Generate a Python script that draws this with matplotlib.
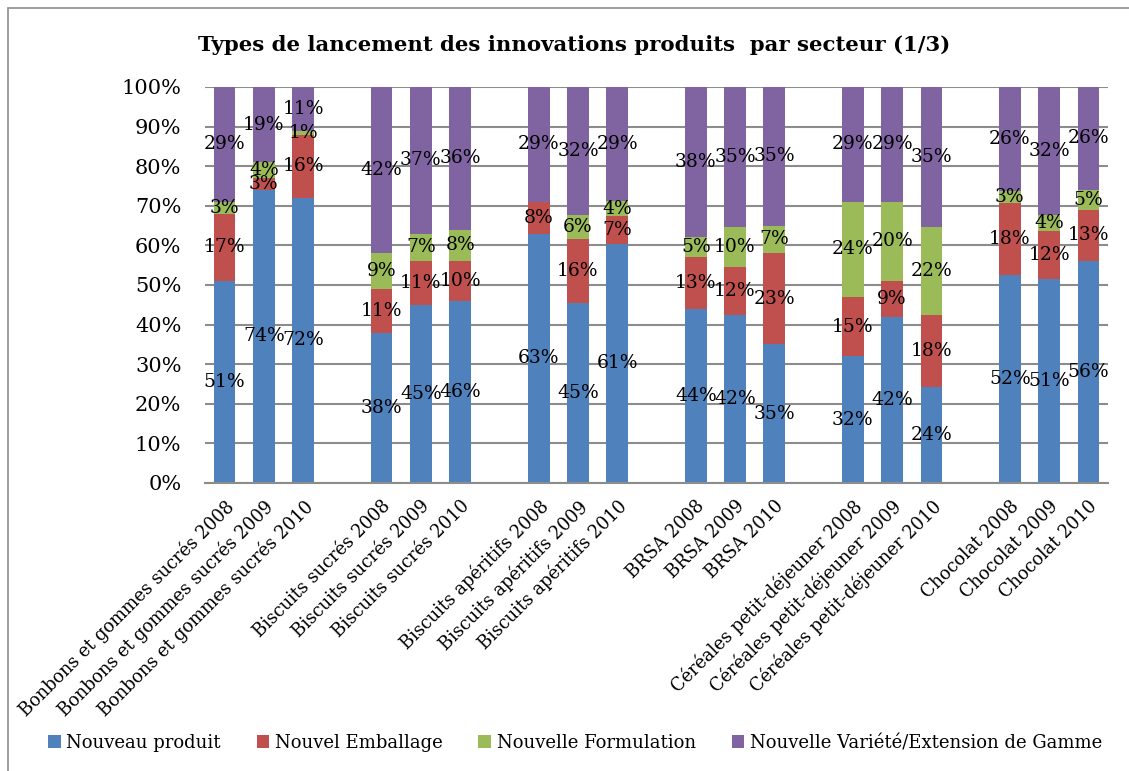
import matplotlib
matplotlib.use("Agg")
import matplotlib.pyplot as plt
from matplotlib.patches import Rectangle
import numpy as np

plt.rcParams['font.family'] = ['DejaVu Serif']

# data (en %)
categories = ["Bonbons et gommes sucrés 2008", "Bonbons et gommes sucrés 2009", "Bonbons et gommes sucrés 2010",
              "Biscuits sucrés 2008", "Biscuits sucrés 2009", "Biscuits sucrés 2010",
              "Biscuits apéritifs 2008", "Biscuits apéritifs 2009", "Biscuits apéritifs 2010",
              "BRSA 2008", "BRSA 2009", "BRSA 2010",
              "Céréales petit-déjeuner 2008", "Céréales petit-déjeuner 2009", "Céréales petit-déjeuner 2010",
              "Chocolat 2008", "Chocolat 2009", "Chocolat 2010"]
nouveau = [51, 74, 72, 38, 45, 46, 63, 45, 61, 44, 42, 35, 32, 42, 24, 52, 51, 56]
emballage = [17, 3, 16, 11, 11, 10, 8, 16, 7, 13, 12, 23, 15, 9, 18, 18, 12, 13]
formulation = [3, 4, 1, 9, 7, 8, 0, 6, 4, 5, 10, 7, 24, 20, 22, 3, 4, 5]
variete = [29, 19, 11, 42, 37, 36, 29, 32, 29, 38, 35, 35, 29, 29, 35, 26, 32, 26]
series_names = ["Nouveau produit", "Nouvel Emballage", "Nouvelle Formulation",
                "Nouvelle Variété/Extension de Gamme"]
colors = ["#4F81BD", "#C0504D", "#9BBB59", "#8064A2"]

W, H = 1129, 771
fig = plt.figure(figsize=(W / 100, H / 100), dpi=100)
fig.patches.append(Rectangle((8 / W, -0.01), 1.0, 1 - 8 / H + 0.01, transform=fig.transFigure,
                             fill=False, edgecolor="#8c8c8c", lw=1.2))
ax = fig.add_axes([205 / W, 1 - 483 / H, (1108 - 205) / W, (483 - 87) / H])

# positions : un emplacement vide entre chaque secteur
pos = np.array([(i // 3) * 4 + i % 3 for i in range(len(categories))])
data = np.array([nouveau, emballage, formulation, variete], dtype=float)
frac = data / data.sum(axis=0)

bottom = np.zeros(len(categories))
for k in range(4):
    ax.bar(pos, frac[k], 0.55, bottom=bottom, color=colors[k], label=series_names[k], zorder=2)
    for i in range(len(categories)):
        if data[k, i] > 0:
            ax.text(pos[i], bottom[i] + frac[k, i] / 2, "%d%%" % data[k, i],
                    ha="center", va="center", fontsize=13.5, color="black", zorder=3)
    bottom += frac[k]

ax.set_xlim(-0.5, pos[-1] + 0.5)
ax.set_ylim(0, 1)
ax.set_yticks(np.arange(0, 1.01, 0.1))
ax.set_yticklabels(["%d%%" % v for v in range(0, 101, 10)], fontsize=15)
ax.set_xticks(pos)
ax.set_xticklabels(categories, rotation=45, ha="right", rotation_mode="anchor", fontsize=12.8)
ax.tick_params(length=0)
ax.tick_params(axis="y", pad=17)
ax.tick_params(axis="x", pad=10)
ax.yaxis.grid(True, color="#8c8c8c", lw=1.5, zorder=0)
for s in ["top", "right", "left"]:
    ax.spines[s].set_visible(False)
ax.spines["bottom"].set_color("#8c8c8c")
ax.spines["bottom"].set_linewidth(1.5)

fig.text(574 / W, 1 - 45 / H, "Types de lancement des innovations produits  par secteur (1/3)",
         ha="center", va="center", fontsize=15.3, fontweight="bold")

fig.legend(loc="center", bbox_to_anchor=(575 / W, 1 - 743 / H), ncol=4, frameon=False,
           fontsize=13, handlelength=0.7, handleheight=0.7, handletextpad=0.3, columnspacing=2.0)

fig.savefig("out.png", dpi=100)
